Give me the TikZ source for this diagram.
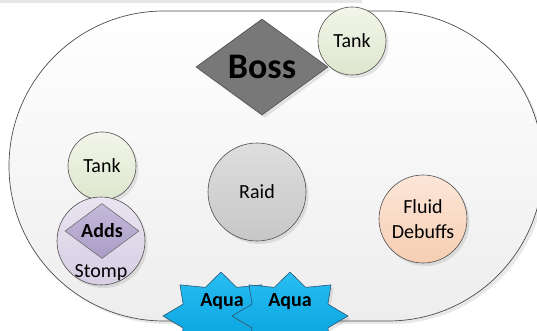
\documentclass[tikz,border=0pt]{standalone}
\usepackage{fontspec}
\setmainfont{Carlito}
\usetikzlibrary{shapes.geometric,shadows}
\definecolor{edgegray}{HTML}{4D4D4D}
\definecolor{bargray}{HTML}{E6E6E6}
\definecolor{aquaedge}{HTML}{2E5573}

\tikzset{
	arena/.style={draw=edgegray, line width=0.7pt, top color=white, bottom color=black!7,
		drop shadow={shadow xshift=3pt, shadow yshift=-3pt, opacity=0.18}},
	ball/.style={circle, draw=edgegray, line width=0.6pt, inner sep=0pt, align=center,
		font=\fontsize{20}{25}\selectfont,
		drop shadow={shadow xshift=2.5pt, shadow yshift=-3pt, opacity=0.2}},
	tankball/.style={ball, minimum size=68pt, top color={rgb,255:red,242;green,245;blue,233}, bottom color={rgb,255:red,222;green,230;blue,206}},
	bossmark/.style={diamond, draw=edgegray, line width=0.6pt, inner sep=0pt, aspect=1.375,
		minimum width=132pt, minimum height=96pt, fill=black!53,
		font=\fontsize{36}{40}\selectfont\bfseries,
		drop shadow={shadow xshift=2.5pt, shadow yshift=-3pt, opacity=0.2}},
	addsmark/.style={diamond, draw=edgegray!80, line width=0.6pt, inner sep=0pt, aspect=1.35,
		minimum width=74pt, minimum height=55pt,
		top color={rgb,255:red,196;green,186;blue,218}, bottom color={rgb,255:red,170;green,157;blue,198},
		font=\fontsize{20}{25}\selectfont\bfseries},
	aquastar/.style={draw=aquaedge, line width=0.6pt, line join=miter,
		top color={rgb,255:red,40;green,190;blue,242}, bottom color={rgb,255:red,0;green,156;blue,218},
		drop shadow={shadow xshift=2.5pt, shadow yshift=-3pt, opacity=0.2}},
	aqualabel/.style={inner sep=0pt, font=\fontsize{20}{25}\selectfont\bfseries}
}

\begin{document}
\begin{tikzpicture}[x=1pt,y=-1pt]
	\clip (0,0) rectangle (537,331);
	\fill[bargray] (0,0) rectangle (362,3);
	\draw[arena, rounded corners=155pt] (9,11) rectangle (543,321);

	\node (boss) at (262,67)[bossmark] {Boss};
	\node (tanktop) at (352,41)[tankball] {Tank};
	\node (tankleft) at (102,166)[tankball] {Tank};
	\node (adds) at (101,241)[ball, minimum size=88pt, top color={rgb,255:red,233;green,228;blue,241}, bottom color={rgb,255:red,214;green,206;blue,227}] {};
	\node (addsmark) at (102,231)[addsmark] {Adds};
	\node (stomp) at (101,277)[anchor=base, inner sep=0pt, font=\fontsize{20}{25}\selectfont] {Stomp};
	\node (raid) at (257,192)[ball, minimum size=98pt, top color=black!13, bottom color=black!22] {Raid};
	\node (fluid) at (423,219)[ball, minimum size=88pt, top color={rgb,255:red,252;green,230;blue,216}, bottom color={rgb,255:red,246;green,206;blue,178}] {Fluid\\Debuffs};

	% aqua stars
	\begin{scope}[shift={(221,316)}]
		\draw[aquastar] (0:58 and 44) \foreach \a in {45,90,...,360} {-- ({\a-22.5}:41 and 31) -- (\a:58 and 44)} -- cycle;
	\end{scope}
	\node (aqua1) at (222,302)[aqualabel] {Aqua};
	\begin{scope}[shift={(290,316)}]
		\draw[aquastar] (0:58 and 44) \foreach \a in {45,90,...,360} {-- ({\a-22.5}:41 and 31) -- (\a:58 and 44)} -- cycle;
	\end{scope}
	\node (aqua2) at (290,302)[aqualabel] {Aqua};
\end{tikzpicture}
\end{document}
